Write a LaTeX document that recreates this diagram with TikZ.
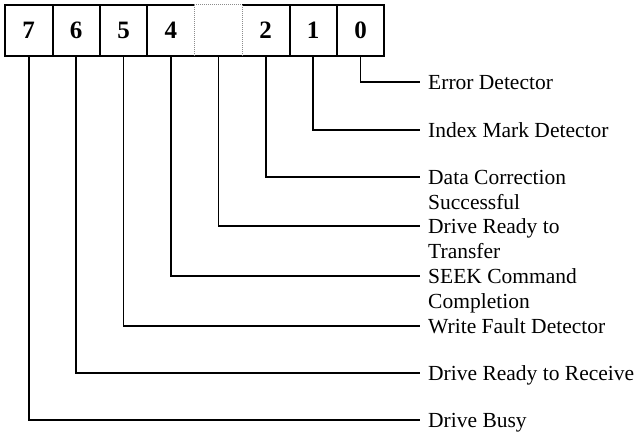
\documentclass[tikz,border=0pt]{standalone}
\usepackage{fontspec}
\setmainfont{Liberation Serif}
\begin{document}
\begin{tikzpicture}[x=1pt,y=-1pt,
  cell/.style={minimum width=47.4pt,minimum height=51pt,inner sep=0pt,font=\fontsize{25}{27}\selectfont\bfseries},
  lead/.style={line width=1.6pt},
  frame/.style={line width=2pt},
  faint/.style={line width=1pt,draw=black!45,densely dotted},
  lbl/.style={anchor=base west,inner sep=0pt,font=\fontsize{21.5}{25}\selectfont}]
\useasboundingbox (0,0) rectangle (634,434);
% cells
\node[cell] (b7) at (28.7,30.5) {7};
\node[cell] (b6) at (76.1,30.5) {6};
\node[cell] (b5) at (123.5,30.5) {5};
\node[cell] (b4) at (170.9,30.5) {4};
\node[cell] (b3) at (218.3,30.5) {};
\node[cell] (b2) at (265.7,30.5) {2};
\node[cell] (b1) at (313.1,30.5) {1};
\node[cell] (b0) at (360.5,30.5) {0};
% frame
\draw[frame] (b4.north east) -- (b7.north west) -- (b7.south west) -- (b0.south east) -- (b0.north east) -- (b2.north west);
\draw[faint] (b3.north west) -- (b3.north east);
\foreach \c in {b7,b6,b5,b2,b1} \draw[frame] (\c.north east) -- (\c.south east);
\draw[faint] (b4.north east) -- (b4.south east);
\draw[faint] (b3.north east) -- (b3.south east);
% line ends
\coordinate (e0) at (420,82);
\coordinate (e1) at (420,130);
\coordinate (e2) at (420,177);
\coordinate (e3) at (420,226);
\coordinate (e4) at (420,276);
\coordinate (e5) at (420,326);
\coordinate (e6) at (420,373);
\coordinate (e7) at (420,420);
% leads
\draw[lead] (b0.south) |- (e0);
\draw[lead] (b1.south) |- (e1);
\draw[lead] (b2.south) |- (e2);
\draw[lead] (b3.south) |- (e3);
\draw[lead] (b4.south) |- (e4);
\draw[lead] (b5.south) |- (e5);
\draw[lead] (b6.south) |- (e6);
\draw[lead] (b7.south) |- (e7);
% labels
\node[lbl] (l0) at ([shift={(8,7)}]e0) {Error Detector};
\node[lbl] (l1) at ([shift={(8,7)}]e1) {Index Mark Detector};
\node[lbl] (l2) at ([shift={(8,7)}]e2) {\begin{tabular}[t]{@{}l@{}}Data Correction\\Successful\end{tabular}};
\node[lbl] (l3) at ([shift={(8,7)}]e3) {\begin{tabular}[t]{@{}l@{}}Drive Ready to\\Transfer\end{tabular}};
\node[lbl] (l4) at ([shift={(8,7)}]e4) {\begin{tabular}[t]{@{}l@{}}SEEK Command\\Completion\end{tabular}};
\node[lbl] (l5) at ([shift={(8,7)}]e5) {Write Fault Detector};
\node[lbl] (l6) at ([shift={(8,7)}]e6) {Drive Ready to Receive};
\node[lbl] (l7) at ([shift={(8,7)}]e7) {Drive Busy};
\end{tikzpicture}
\end{document}
